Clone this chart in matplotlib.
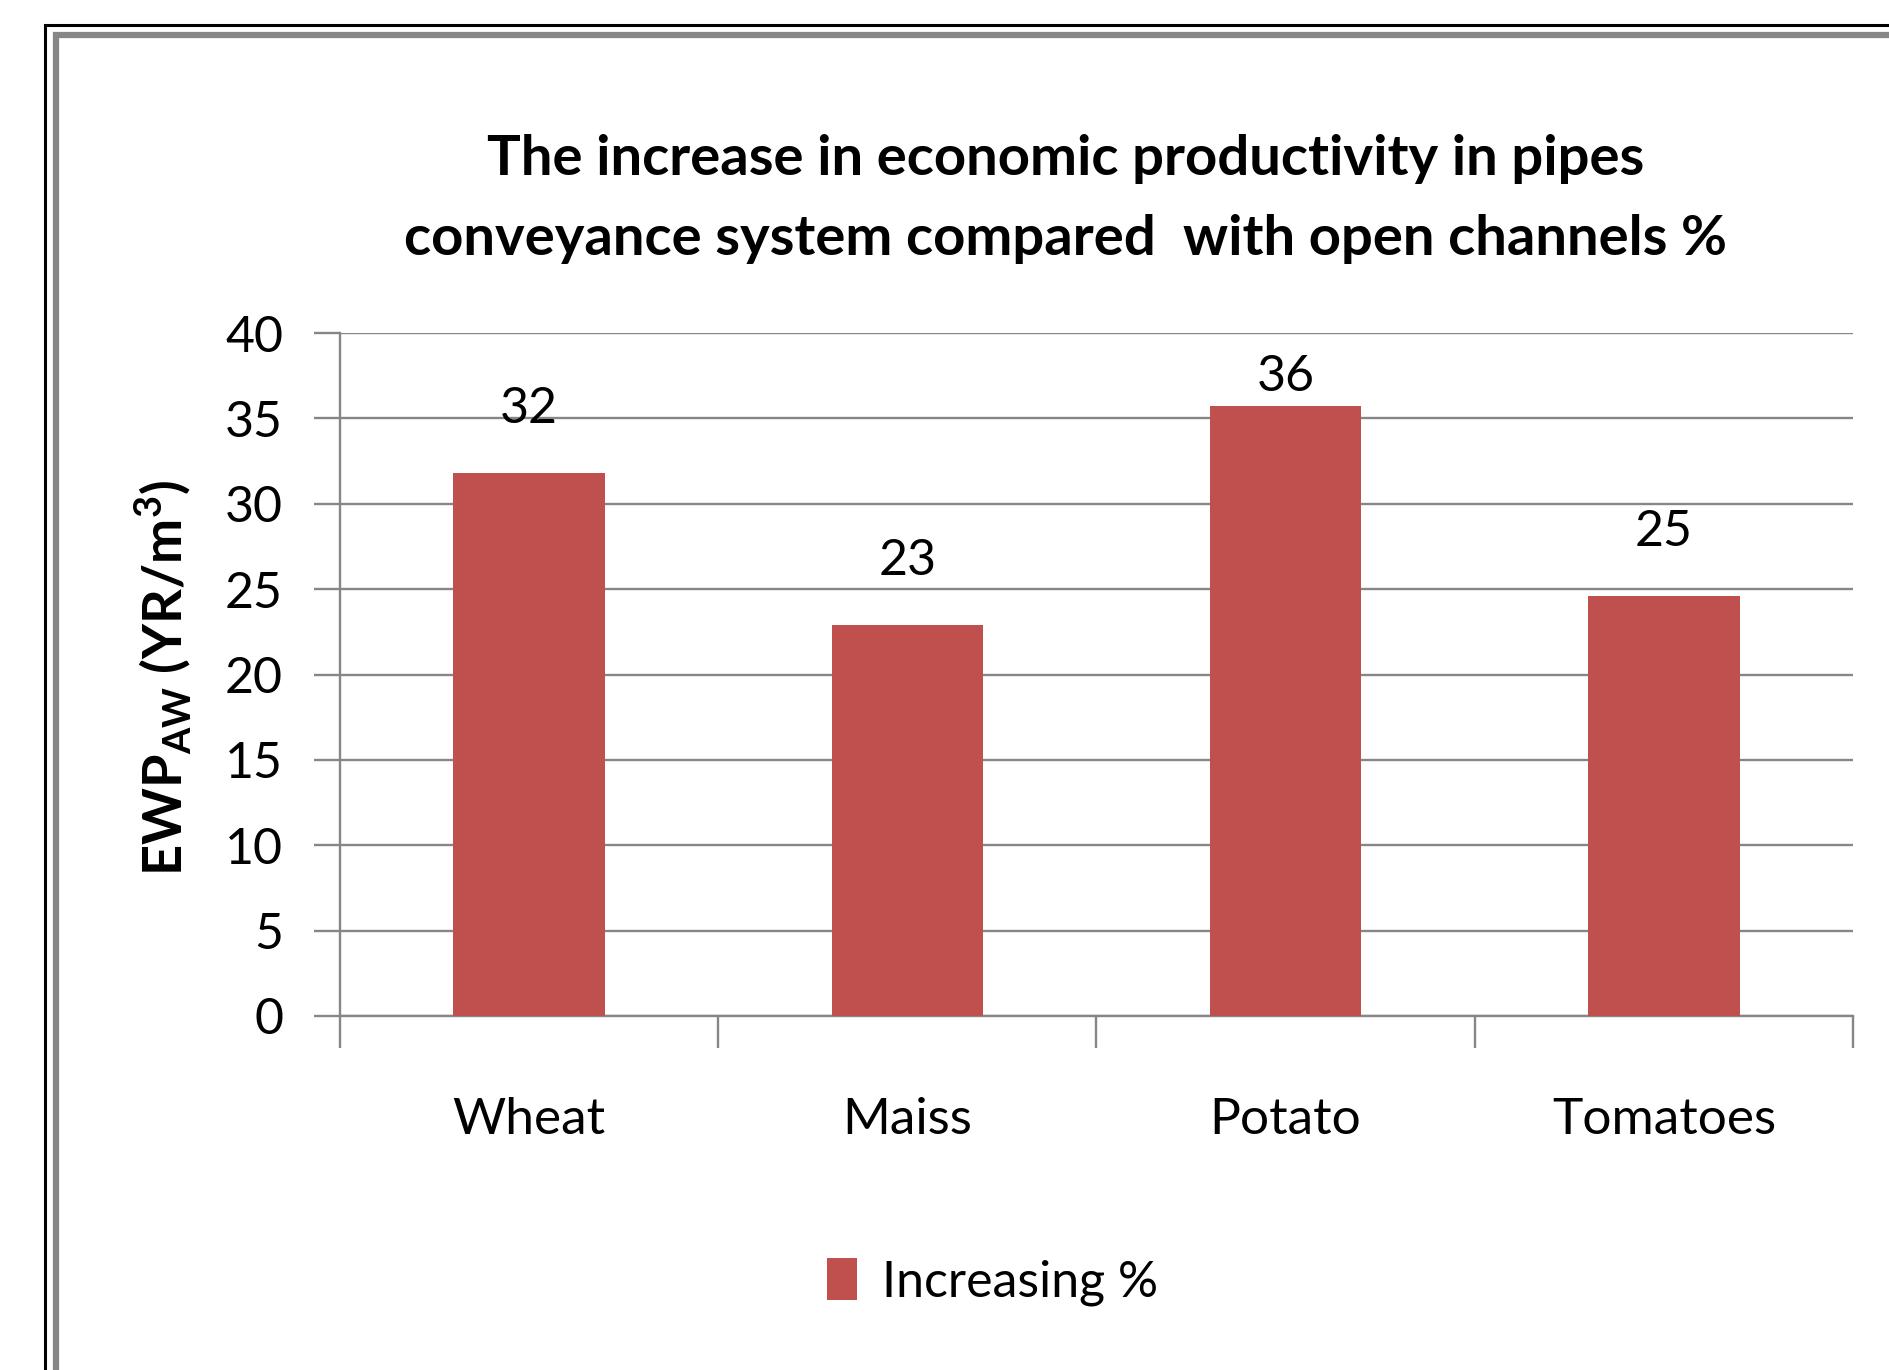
import matplotlib
matplotlib.use("Agg")
import matplotlib.pyplot as plt
from matplotlib.lines import Line2D

# Datos
cultivos = ["Wheat", "Maiss", "Potato", "Tomatoes"]
valores = [31.8, 22.9, 35.7, 24.6]
etiquetas = ["32", "23", "36", "25"]
serie = "Increasing %"
titulo = ("The increase in economic productivity in pipes\n"
          "conveyance system compared  with open channels %")

plt.rcParams['font.family'] = ['Lato', 'DejaVu Sans']

W, H = 1890, 1370
fig = plt.figure(figsize=(W / 100, H / 100), dpi=100)
fig.patch.set_facecolor("white")

# Marco exterior (negro + gris)
for xs, ys, c, lw in [
    ((45, 45, W + 10), (H + 10, 25, 25), "black", 2.2),
    ((56, 56, W + 10), (H + 10, 35, 35), "#878787", 4.5),
]:
    fx = [x / W for x in xs]
    fy = [1 - y / H for y in ys]
    fig.add_artist(Line2D(fx, fy, color=c, lw=lw, transform=fig.transFigure,
                          solid_joinstyle="miter"))

ax = fig.add_axes([340 / W, 1 - 1016 / H, (1853 - 340) / W, (1016 - 333) / H])

gris = "#868686"
x = range(len(cultivos))
barras = ax.bar(x, valores, width=0.4, color="#C0504D", label=serie, zorder=3)

for xi, v, t in zip(x, valores, etiquetas):
    ax.text(xi, min(v + 3.75, 37.4), t, ha="center", va="center",
            fontsize=36, color="black")

ax.set_xlim(-0.5, len(cultivos) - 0.5)
ax.set_ylim(0, 40)
ax.set_yticks(range(0, 41, 5))
ax.tick_params(axis="y", labelsize=36, length=19, width=1.7, color=gris, pad=22)
ax.yaxis.grid(True, color=gris, lw=1.7, zorder=0)
ax.set_axisbelow(True)

ax.set_xticks([i - 0.5 for i in range(len(cultivos) + 1)], minor=False)
ax.set_xticklabels([])
ax.tick_params(axis="x", length=23, width=1.7, color=gris)
ax.set_xticks(list(x), minor=True)
ax.set_xticklabels(cultivos, minor=True)
ax.tick_params(axis="x", which="minor", length=0, labelsize=37, pad=58)

for s in ["top", "right"]:
    ax.spines[s].set_visible(False)
for s in ["left", "bottom"]:
    ax.spines[s].set_color(gris)
    ax.spines[s].set_linewidth(1.7)

fig.text(163 / W, 1 - 678 / H, r"EWP$_{\mathregular{AW}}$ (YR/m$^{\mathregular{3}}$)",
         rotation=90, ha="center", va="center", fontsize=39, fontweight="bold")

fig.text(1066 / W, 1 - 199 / H, titulo, ha="center", va="center",
         fontsize=40.5, fontweight="bold", linespacing=1.75)

fig.legend(handles=[barras], labels=[serie], loc="center",
           bbox_to_anchor=(993 / W, 1 - 1282 / H), frameon=False,
           fontsize=36, handlelength=0.6, handleheight=0.9, handletextpad=0.5)

fig.savefig("out.png", dpi=100)
